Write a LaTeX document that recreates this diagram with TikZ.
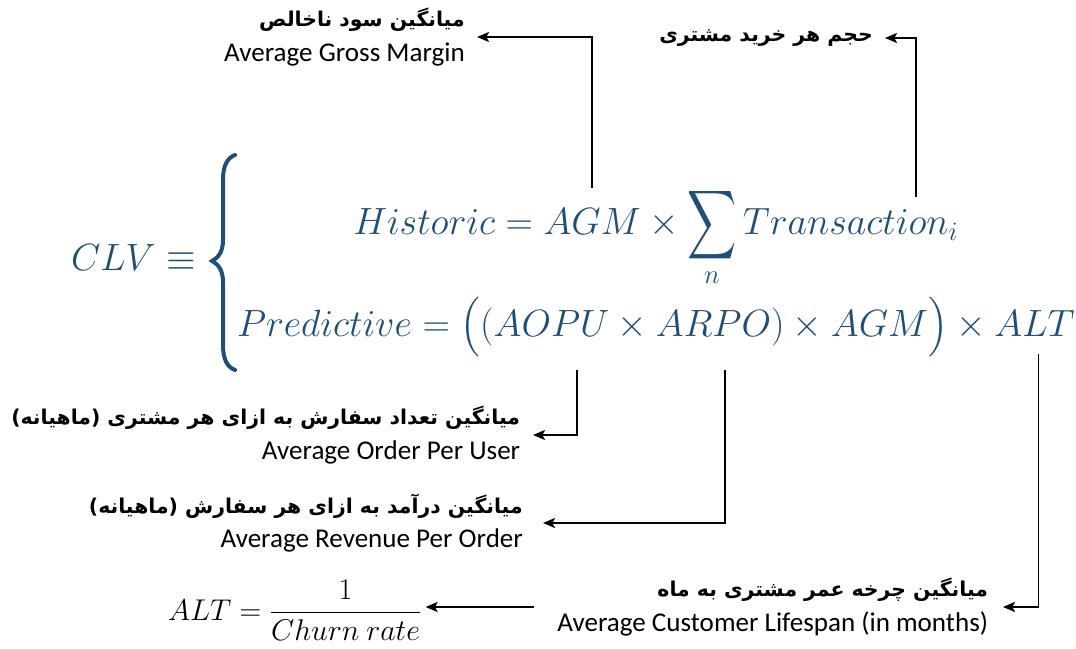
\RequirePackage{fix-cm}
\documentclass[tikz,border=0pt]{standalone}
\usepackage{exscale}
\usepackage{fontspec}
\setmainfont{Carlito}
\newfontfamily\fa[Script=Arabic]{DejaVu Sans}
\TeXXeTstate=1
\usetikzlibrary{arrows.meta,calc}
\definecolor{clvblue}{RGB}{31,78,121}
\newlength\wone \newlength\wtwo \newlength\dxone
\newcommand\mf{\fontsize{28.5}{34}\selectfont}
\newcommand\bigsum{\mathop{\vcenter{\hbox{\scalebox{1.03}[1.45]{$\displaystyle\sum$}}}}\limits_n}
\newcommand\fatext[1]{{\fa\bfseries\fontsize{15.3}{18}\selectfont\beginR #1\endR}}
\tikzset{
  mth/.style={inner sep=0pt, outer sep=0pt, anchor=base west, font=\mf, text=clvblue},
  arr/.style={line width=1.4pt, -{Stealth[length=9pt,width=7.5pt,inset=2pt]}},
  lbl/.style={inner ysep=0pt, align=right, anchor=east, font=\fontsize{20.3}{24}\selectfont},
}
\begin{document}
\begin{tikzpicture}[x=0.75pt,y=-0.75pt]
\useasboundingbox (0,0) rectangle (1076,649);
\settowidth\wone{\mf\(Historic={}\)\(AGM\)\({}\times{}\)\(\displaystyle\bigsum\)\(\,Transaction_i\)}
\settowidth\wtwo{\mf\(Predictive=\bigl((\)\(AOPU\)\({}\times{}\)\(ARPO\)\()\times AGM\bigr)\times{}\)\(ALT\)}
\setlength\dxone{\dimexpr(\wtwo-\wone)/2\relax}

% CLV and brace
\node[mth] (clv) at (71,271) {$CLV\equiv$};
\draw[clvblue, line width=3pt, line cap=round]
  (235,155) .. controls (227,158) and (223,166) .. (223,180) -- (223,240)
  .. controls (223,252) and (218,258) .. (212,261)
  .. controls (218,264) and (223,270) .. (223,282) -- (223,345)
  .. controls (223,359) and (227,367) .. (235,370);

% line 2
\node[mth] (pred) at (237,337) {$Predictive=\bigl(($};
\node[mth] (aopu) at (pred.base east) {$AOPU$};
\node[mth] (tm2) at (aopu.base east) {${}\times{}$};
\node[mth] (arpo) at (tm2.base east) {$ARPO$};
\node[mth] (mid2) at (arpo.base east) {$)\times AGM\bigr)\times{}$};
\node[mth] (alt) at (mid2.base east) {$ALT$};

% line 1
\coordinate (l1) at ($(237,235)+(\dxone,0)$);
\node[mth] (hist) at (l1) {$Historic={}$};
\node[mth] (agm) at (hist.base east) {$AGM$};
\node[mth] (tm1) at (agm.base east) {${}\times{}$};
\node[mth] (sum) at (tm1.base east) {$\displaystyle\bigsum$};
\node[mth] (trans) at (sum.base east) {$\,Transaction_i$};

% labels
\node[lbl, inner xsep=9pt] (lagm) at (477,37) {\fatext{میانگین سود ناخالص}\\[2pt] Average Gross Margin};
\node[lbl, inner xsep=9pt] (ltr) at (885,38) {\fatext{حجم هر خرید مشتری}};
\node[lbl, inner xsep=9.5pt] (laopu) at (533,435) {\fatext{میانگین تعداد سفارش به ازای هر مشتری (ماهیانه)}\\[2pt] Average Order Per User};
\node[lbl, inner xsep=15pt] (larpo) at (543,523) {\fatext{میانگین درآمد به ازای هر سفارش (ماهیانه)}\\[2pt] Average Revenue Per Order};
\node[lbl, inner xsep=11pt] (lalt) at (1003,607) {\fatext{میانگین چرخه عمر مشتری به ماه}\\[2pt] Average Customer Lifespan (in months)};

% ALT formula
\node[inner sep=0pt, outer sep=0pt, anchor=base west] (frac) at (168,620)
  {\fontsize{22.5}{27}\selectfont$\displaystyle ALT=\frac{1}{Churn\ rate}$};

% connectors
\coordinate (ttop) at ($(trans.north west)!0.81!(trans.north east)+(0,9pt)$);
\draw[arr] ([yshift=16pt]agm.north) |- (lagm.east);
\draw[arr] (ttop) |- (ltr.east);
\draw[arr] ($(aopu.south west)!0.72!(aopu.south east)+(0,-25pt)$) |- (laopu.east);
\draw[arr] ($(arpo.south west)!0.6!(arpo.south east)+(0,-25pt)$) |- (larpo.east);
\draw[arr] ($(alt.south west)!0.55!(alt.south east)+(0,-13pt)$) |- (lalt.east);
\draw[arr, shorten <=6pt, shorten >=3pt] (lalt.west) -- (lalt.west -| frac.east);
\end{tikzpicture}
\end{document}
